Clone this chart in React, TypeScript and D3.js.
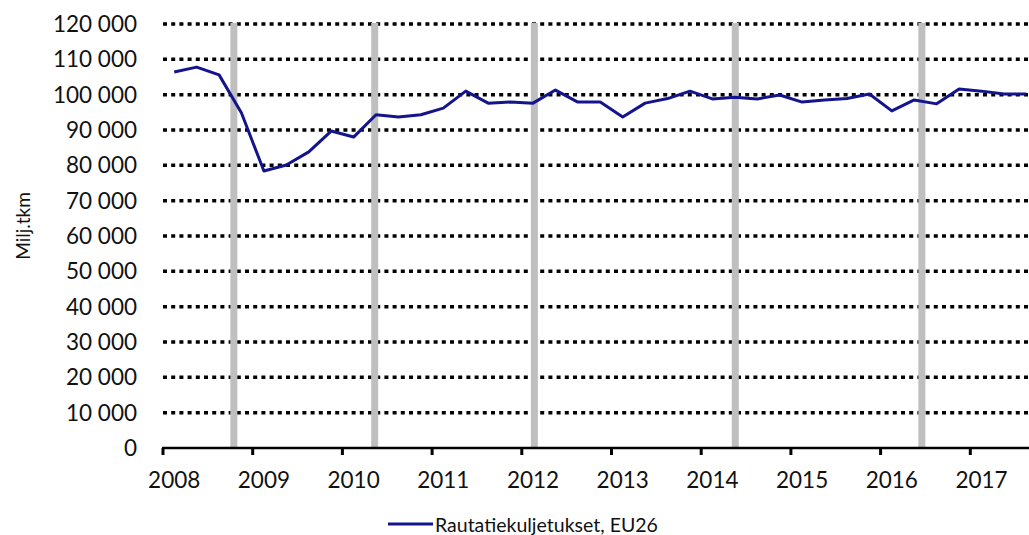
import * as d3 from 'd3';

// quarterly values, mill. tonne-km, 2008Q1 .. 2017Q3
const startYear = 2008;
const values = [
  106.4, 107.8, 105.6, 94.8,
  78.4, 80.1, 83.8, 89.7,
  88.0, 94.3, 93.7, 94.3,
  96.2, 101.0, 97.6, 97.9,
  97.6, 101.3, 97.9, 97.9,
  93.7, 97.6, 98.9, 101.0,
  98.8, 99.3, 98.8, 99.9,
  97.9, 98.5, 98.9, 100.2,
  95.4, 98.5, 97.4, 101.6,
  101.0, 100.2, 100.2,
].map((v) => v * 1000);

const years = [2008, 2009, 2010, 2011, 2012, 2013, 2014, 2015, 2016, 2017];
const yTicks = d3.range(0, 120001, 10000);
// grey vertical markers (fractional year)
const markers = [2008.79, 2010.36, 2012.14, 2014.38, 2016.46];

const seriesName = 'Rautatiekuljetukset, EU26';
const yTitle = 'Milj.tkm';

const W = 1029;
const H = 535;
const font = 'Lato, "Open Sans", sans-serif';

export default function App() {
  const x = d3.scaleLinear().domain([2008, 2018]).range([163, 1060]);
  const y = d3.scaleLinear().domain([0, 120000]).range([448, 24]);

  const pts = values.map((v, i) => [startYear + 0.125 + 0.25 * i, v] as [number, number]);
  const line = d3
    .line<[number, number]>()
    .x((d) => x(d[0]))
    .y((d) => y(d[1]));

  const fmt = (v: number) => d3.format(',')(v).replace(/,/g, ' ');

  return (
    <svg
      width={W}
      height={H}
      style={{ position: 'absolute', left: 0, top: 0, background: '#fff' }}
      fontFamily={font}
    >
      {/* gridlines */}
      {yTicks
        .filter((t) => t > 0)
        .map((t) => (
          <line
            key={t}
            x1={x(2008)}
            x2={W}
            y1={y(t)}
            y2={y(t)}
            stroke="#000"
            strokeWidth={3.5}
            strokeDasharray="4 4.2"
          />
        ))}

      {markers.map((m) => (
        <rect key={m} x={x(m) - 3.5} y={y(120000) - 1} width={7} height={y(0) - y(120000) + 1} fill="#bfbfbf" />
      ))}

      {/* y labels */}
      {yTicks.map((t) => (
        <text key={t} x={137} y={y(t)} dy="0.36em" textAnchor="end" fontSize={22.5} fill="#111">
          {fmt(t)}
        </text>
      ))}

      {/* x axis */}
      <line x1={x(2008) - 1} x2={W} y1={y(0)} y2={y(0)} stroke="#000" strokeWidth={2.5} />
      {years.map((yr) => (
        <g key={yr}>
          <line x1={x(yr)} x2={x(yr)} y1={y(0)} y2={y(0) + 7} stroke="#000" strokeWidth={3} />
          <text x={x(yr + 0.125)} y={488} textAnchor="middle" fontSize={22.5} fill="#111">
            {yr}
          </text>
        </g>
      ))}

      <path d={line(pts) || ''} fill="none" stroke="#14148c" strokeWidth={3} strokeLinejoin="round" />

      <text
        transform={`translate(30,226) rotate(-90)`}
        textAnchor="middle"
        fontSize={19}
        fill="#111"
      >
        {yTitle}
      </text>

      {/* legend */}
      <line x1={388} x2={433} y1={524} y2={524} stroke="#14148c" strokeWidth={3} />
      <text x={435} y={532} fontSize={19.5} fill="#111">
        {seriesName}
      </text>
    </svg>
  );
}
